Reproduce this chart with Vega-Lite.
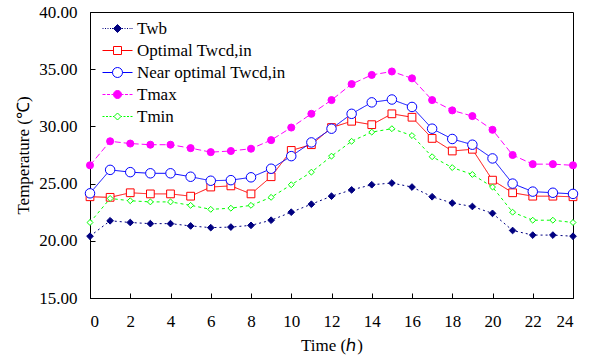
{
  "$schema": "https://vega.github.io/schema/vega-lite/v6.json",
  "width": 483,
  "height": 286,
  "autosize": {"type": "none"},
  "padding": {"left": 90, "top": 12, "right": 32, "bottom": 64},
  "background": "white",
  "config": {
    "font": "Liberation Serif",
    "view": {"stroke": "#000", "strokeWidth": 1},
    "axis": {"grid": false, "domainColor": "#000", "tickColor": "#000", "labelColor": "#000", "titleColor": "#000", "labelFont": "Liberation Serif", "titleFont": "Liberation Serif", "labelFontSize": 17, "titleFontSize": 17, "titleFontWeight": "normal", "tickSize": -5},
    "legend": {"labelFont": "Liberation Serif"}
  },
  "data": {"values": [
    {"h":0,"s":"Twb","v":20.4},{"h":1,"s":"Twb","v":21.75},{"h":2,"s":"Twb","v":21.6},{"h":3,"s":"Twb","v":21.5},{"h":4,"s":"Twb","v":21.5},{"h":5,"s":"Twb","v":21.3},{"h":6,"s":"Twb","v":21.15},{"h":7,"s":"Twb","v":21.2},{"h":8,"s":"Twb","v":21.35},{"h":9,"s":"Twb","v":21.8},{"h":10,"s":"Twb","v":22.5},{"h":11,"s":"Twb","v":23.2},{"h":12,"s":"Twb","v":23.9},{"h":13,"s":"Twb","v":24.45},{"h":14,"s":"Twb","v":24.9},{"h":15,"s":"Twb","v":25.05},{"h":16,"s":"Twb","v":24.7},{"h":17,"s":"Twb","v":23.85},{"h":18,"s":"Twb","v":23.3},{"h":19,"s":"Twb","v":23.0},{"h":20,"s":"Twb","v":22.4},{"h":21,"s":"Twb","v":20.9},{"h":22,"s":"Twb","v":20.5},{"h":23,"s":"Twb","v":20.5},{"h":24,"s":"Twb","v":20.4},
    {"h":0,"s":"Optimal Twcd,in","v":23.85},{"h":1,"s":"Optimal Twcd,in","v":23.8},{"h":2,"s":"Optimal Twcd,in","v":24.2},{"h":3,"s":"Optimal Twcd,in","v":24.1},{"h":4,"s":"Optimal Twcd,in","v":24.1},{"h":5,"s":"Optimal Twcd,in","v":23.9},{"h":6,"s":"Optimal Twcd,in","v":24.7},{"h":7,"s":"Optimal Twcd,in","v":24.8},{"h":8,"s":"Optimal Twcd,in","v":24.1},{"h":9,"s":"Optimal Twcd,in","v":25.6},{"h":10,"s":"Optimal Twcd,in","v":27.9},{"h":11,"s":"Optimal Twcd,in","v":28.4},{"h":12,"s":"Optimal Twcd,in","v":29.9},{"h":13,"s":"Optimal Twcd,in","v":30.45},{"h":14,"s":"Optimal Twcd,in","v":30.15},{"h":15,"s":"Optimal Twcd,in","v":31.1},{"h":16,"s":"Optimal Twcd,in","v":30.8},{"h":17,"s":"Optimal Twcd,in","v":28.95},{"h":18,"s":"Optimal Twcd,in","v":27.85},{"h":19,"s":"Optimal Twcd,in","v":28.0},{"h":20,"s":"Optimal Twcd,in","v":25.3},{"h":21,"s":"Optimal Twcd,in","v":24.2},{"h":22,"s":"Optimal Twcd,in","v":23.9},{"h":23,"s":"Optimal Twcd,in","v":23.9},{"h":24,"s":"Optimal Twcd,in","v":23.85},
    {"h":0,"s":"Near optimal Twcd,in","v":24.15},{"h":1,"s":"Near optimal Twcd,in","v":26.2},{"h":2,"s":"Near optimal Twcd,in","v":26.0},{"h":3,"s":"Near optimal Twcd,in","v":25.9},{"h":4,"s":"Near optimal Twcd,in","v":25.9},{"h":5,"s":"Near optimal Twcd,in","v":25.6},{"h":6,"s":"Near optimal Twcd,in","v":25.25},{"h":7,"s":"Near optimal Twcd,in","v":25.3},{"h":8,"s":"Near optimal Twcd,in","v":25.55},{"h":9,"s":"Near optimal Twcd,in","v":26.3},{"h":10,"s":"Near optimal Twcd,in","v":27.4},{"h":11,"s":"Near optimal Twcd,in","v":28.6},{"h":12,"s":"Near optimal Twcd,in","v":29.8},{"h":13,"s":"Near optimal Twcd,in","v":31.1},{"h":14,"s":"Near optimal Twcd,in","v":32.1},{"h":15,"s":"Near optimal Twcd,in","v":32.35},{"h":16,"s":"Near optimal Twcd,in","v":31.7},{"h":17,"s":"Near optimal Twcd,in","v":29.8},{"h":18,"s":"Near optimal Twcd,in","v":28.9},{"h":19,"s":"Near optimal Twcd,in","v":28.4},{"h":20,"s":"Near optimal Twcd,in","v":27.2},{"h":21,"s":"Near optimal Twcd,in","v":25.0},{"h":22,"s":"Near optimal Twcd,in","v":24.3},{"h":23,"s":"Near optimal Twcd,in","v":24.2},{"h":24,"s":"Near optimal Twcd,in","v":24.1},
    {"h":0,"s":"Tmax","v":26.6},{"h":1,"s":"Tmax","v":28.7},{"h":2,"s":"Tmax","v":28.5},{"h":3,"s":"Tmax","v":28.4},{"h":4,"s":"Tmax","v":28.4},{"h":5,"s":"Tmax","v":28.1},{"h":6,"s":"Tmax","v":27.75},{"h":7,"s":"Tmax","v":27.85},{"h":8,"s":"Tmax","v":28.05},{"h":9,"s":"Tmax","v":28.8},{"h":10,"s":"Tmax","v":29.9},{"h":11,"s":"Tmax","v":31.1},{"h":12,"s":"Tmax","v":32.3},{"h":13,"s":"Tmax","v":33.7},{"h":14,"s":"Tmax","v":34.5},{"h":15,"s":"Tmax","v":34.8},{"h":16,"s":"Tmax","v":34.2},{"h":17,"s":"Tmax","v":32.3},{"h":18,"s":"Tmax","v":31.4},{"h":19,"s":"Tmax","v":30.9},{"h":20,"s":"Tmax","v":29.7},{"h":21,"s":"Tmax","v":27.5},{"h":22,"s":"Tmax","v":26.7},{"h":23,"s":"Tmax","v":26.7},{"h":24,"s":"Tmax","v":26.6},
    {"h":0,"s":"Tmin","v":21.6},{"h":1,"s":"Tmin","v":23.7},{"h":2,"s":"Tmin","v":23.5},{"h":3,"s":"Tmin","v":23.4},{"h":4,"s":"Tmin","v":23.4},{"h":5,"s":"Tmin","v":23.1},{"h":6,"s":"Tmin","v":22.75},{"h":7,"s":"Tmin","v":22.85},{"h":8,"s":"Tmin","v":23.1},{"h":9,"s":"Tmin","v":23.8},{"h":10,"s":"Tmin","v":24.9},{"h":11,"s":"Tmin","v":26.0},{"h":12,"s":"Tmin","v":27.4},{"h":13,"s":"Tmin","v":28.7},{"h":14,"s":"Tmin","v":29.5},{"h":15,"s":"Tmin","v":29.8},{"h":16,"s":"Tmin","v":29.2},{"h":17,"s":"Tmin","v":27.35},{"h":18,"s":"Tmin","v":26.4},{"h":19,"s":"Tmin","v":25.8},{"h":20,"s":"Tmin","v":24.7},{"h":21,"s":"Tmin","v":22.5},{"h":22,"s":"Tmin","v":21.8},{"h":23,"s":"Tmin","v":21.8},{"h":24,"s":"Tmin","v":21.6}
  ]},
  "encoding": {
    "x": {"field": "h", "type": "quantitative", "scale": {"domain": [0, 24], "nice": false},
      "axis": {"values": [0,2,4,6,8,10,12,14,16,18,20,22,24], "title": "Time (ℎ)", "labelPadding": 20, "titlePadding": 8}},
    "y": {"field": "v", "type": "quantitative", "scale": {"domain": [15, 40], "nice": false},
      "axis": {"values": [15,20,25,30,35,40], "format": ".2f", "title": "Temperature (℃)", "labelPadding": 18, "titlePadding": 6}}
  },
  "layer": [
    {
      "mark": {"type": "line", "strokeWidth": 1},
      "encoding": {
        "color": {"field": "s", "type": "nominal", "legend": null,
          "scale": {"domain": ["Tmin","Tmax","Near optimal Twcd,in","Optimal Twcd,in","Twb"], "range": ["#00ff00","#ff00ff","#0000ff","#ff0000","#000080"]}},
        "strokeDash": {"field": "s", "type": "nominal", "legend": null,
          "scale": {"domain": ["Tmin","Tmax","Near optimal Twcd,in","Optimal Twcd,in","Twb"], "range": [[3,3],[6,3],[1,0],[1,0],[2,3]]}}
      }
    },
    {
      "transform": [{"filter": "datum.s === 'Twb'"}],
      "mark": {"type": "point", "shape": "diamond", "filled": true, "fill": "#000080", "stroke": "#000080", "strokeWidth": 1, "size": 45, "opacity": 1}
    },
    {
      "transform": [{"filter": "datum.s === 'Optimal Twcd,in'"}],
      "mark": {"type": "point", "shape": "square", "filled": true, "fill": "#ffffff", "stroke": "#ff0000", "strokeWidth": 1, "size": 60, "opacity": 1}
    },
    {
      "transform": [{"filter": "datum.s === 'Near optimal Twcd,in'"}],
      "mark": {"type": "point", "shape": "circle", "filled": true, "fill": "#ffffff", "stroke": "#0000ff", "strokeWidth": 1, "size": 90, "opacity": 1}
    },
    {
      "transform": [{"filter": "datum.s === 'Tmax'"}],
      "mark": {"type": "point", "shape": "circle", "filled": true, "fill": "#ff00ff", "stroke": "#ff00ff", "strokeWidth": 1, "size": 50, "opacity": 1}
    },
    {
      "transform": [{"filter": "datum.s === 'Tmin'"}],
      "mark": {"type": "point", "shape": "diamond", "filled": true, "fill": "#ffffff", "stroke": "#00ff00", "strokeWidth": 1, "size": 35, "opacity": 1}
    },
    {
      "transform": [{"filter": "datum.h < 0"}],
      "mark": {"type": "point", "filled": true, "strokeWidth": 1, "size": 400},
      "encoding": {
        "shape": {"field": "s", "type": "nominal",
          "scale": {"domain": ["Twb","Optimal Twcd,in","Near optimal Twcd,in","Tmax","Tmin"],
            "range": [
              "M-1.5,0h0.1M-1.25,0h0.1M-1,0h0.1M-0.75,0h0.1M-0.55,0h0.1M0.45,0h0.1M0.7,0h0.1M0.95,0h0.1M1.2,0h0.1M1.4,0h0.1M0,-0.4L0.4,0L0,0.4L-0.4,0Z",
              "M-1.5,0H-0.4M0.4,0H1.5M-0.4,-0.4H0.4V0.4H-0.4Z",
              "M-1.5,0H-0.5M0.5,0H1.5M0.5,0A0.5,0.5 0 1,1 -0.5,0A0.5,0.5 0 1,1 0.5,0Z",
              "M-1.5,0H-1.2M-1.05,0H-0.75M-0.6,0H-0.4M0.4,0H0.6M0.75,0H1.05M1.2,0H1.5M0.4,0A0.4,0.4 0 1,1 -0.4,0A0.4,0.4 0 1,1 0.4,0Z",
              "M-1.5,0H-1.3M-1.15,0H-0.95M-0.8,0H-0.6M-0.45,0H-0.35M0.35,0H0.45M0.6,0H0.8M0.95,0H1.15M1.3,0H1.5M0,-0.35L0.35,0L0,0.35L-0.35,0Z"
            ]},
          "legend": {"title": null, "orient": "none", "legendX": 17, "legendY": 6, "symbolSize": 400, "symbolStrokeWidth": 1, "symbolOpacity": 1,
            "labelFont": "Liberation Serif", "labelFontSize": 17, "labelColor": "#000", "labelOffset": 9, "rowPadding": 3}},
        "stroke": {"field": "s", "type": "nominal",
          "scale": {"domain": ["Twb","Optimal Twcd,in","Near optimal Twcd,in","Tmax","Tmin"], "range": ["#000080","#ff0000","#0000ff","#ff00ff","#00ff00"]},
          "legend": {"title": null, "orient": "none", "legendX": 17, "legendY": 6, "symbolSize": 400, "symbolStrokeWidth": 1, "symbolOpacity": 1,
            "labelFont": "Liberation Serif", "labelFontSize": 17, "labelColor": "#000", "labelOffset": 9, "rowPadding": 3}},
        "fill": {"field": "s", "type": "nominal",
          "scale": {"domain": ["Twb","Optimal Twcd,in","Near optimal Twcd,in","Tmax","Tmin"], "range": ["#000080","#ffffff","#ffffff","#ff00ff","#ffffff"]},
          "legend": {"title": null, "orient": "none", "legendX": 17, "legendY": 6, "symbolSize": 400, "symbolStrokeWidth": 1, "symbolOpacity": 1,
            "labelFont": "Liberation Serif", "labelFontSize": 17, "labelColor": "#000", "labelOffset": 9, "rowPadding": 3}}
      }
    }
  ]
}
